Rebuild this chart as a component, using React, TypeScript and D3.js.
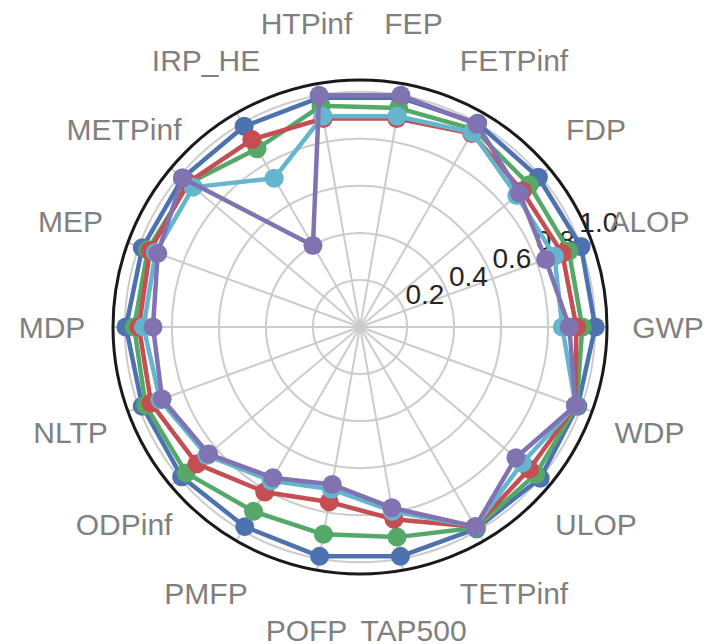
import React from "react";
import * as d3 from "d3";

const categories = ["GWP", "ALOP", "FDP", "FETPinf", "FEP", "HTPinf", "IRP_HE", "METPinf", "MEP", "MDP", "NLTP", "ODPinf", "PMFP", "POFP", "TAP500", "TETPinf", "ULOP", "WDP"];

const seriesBlue = [1.0, 1.0, 0.99, 1.0, 0.99, 0.99, 0.985, 0.985, 0.985, 0.995, 0.985, 0.99, 0.98, 0.99, 0.99, 0.99, 1.0, 0.985];
const seriesGreen = [0.945, 0.945, 0.94, 0.97, 0.945, 0.955, 0.875, 0.95, 0.96, 0.96, 0.97, 0.965, 0.905, 0.895, 0.907, 0.985, 0.975, 0.98];
const seriesRed = [0.92, 0.915, 0.9, 0.95, 0.9, 0.9, 0.92, 0.955, 0.95, 0.94, 0.945, 0.905, 0.81, 0.755, 0.83, 0.98, 0.94, 0.975];
const seriesCyan = [0.86, 0.88, 0.87, 0.955, 0.91, 0.91, 0.73, 0.925, 0.925, 0.92, 0.905, 0.85, 0.755, 0.70, 0.795, 0.98, 0.9, 0.975];
const seriesPurple = [0.89, 0.84, 0.885, 0.995, 1.0, 1.0, 0.40, 0.985, 0.915, 0.88, 0.895, 0.84, 0.74, 0.68, 0.78, 0.98, 0.865, 0.975];

const radialTicks = [0.2, 0.4, 0.6, 0.8, 1.0];
const tickLabels = ["0.2", "0.4", "0.6", "0.8", "1.0"];

const seriesList = [
  { values: seriesBlue, color: "#4C72B0" },
  { values: seriesGreen, color: "#55A868" },
  { values: seriesRed, color: "#C44E52" },
  { values: seriesCyan, color: "#64B5CD" },
  { values: seriesPurple, color: "#8172B2" },
];

const W = 709;
const H = 644;
const cx = 360;
const cy = 327;
const outerR = 247;
const rMax = 1.05;
const font = "'Liberation Sans', Arial, Helvetica, sans-serif";

export default function App() {
  const r = d3.scaleLinear().domain([0, rMax]).range([0, outerR]);
  const ang = d3
    .scaleLinear()
    .domain([0, categories.length])
    .range([0, 2 * Math.PI]);
  const pt = (i: number, v: number): [number, number] => {
    const a = ang(i);
    return [cx + r(v) * Math.cos(a), cy - r(v) * Math.sin(a)];
  };
  const line = d3
    .line<[number, number]>()
    .x((d) => d[0])
    .y((d) => d[1])
    .curve(d3.curveLinearClosed);

  const labelR = 308;
  const tickAngle = (22.5 * Math.PI) / 180;

  return (
    <div style={{ position: "absolute", left: 0, top: 0 }}>
      <svg width={W} height={H} style={{ display: "block", background: "#fff" }}>
        {/* grid circles */}
        {radialTicks.map((t) => (
          <circle key={"c" + t} cx={cx} cy={cy} r={r(t)} fill="none" stroke="#cccccc" strokeWidth={2} />
        ))}
        {/* spokes */}
        {categories.map((c, i) => {
          const a = ang(i);
          return (
            <line
              key={"s" + c}
              x1={cx}
              y1={cy}
              x2={cx + outerR * Math.cos(a)}
              y2={cy - outerR * Math.sin(a)}
              stroke="#cccccc"
              strokeWidth={2}
            />
          );
        })}
        {/* outer spine */}
        <circle cx={cx} cy={cy} r={outerR} fill="none" stroke="#1a1a1a" strokeWidth={3} />
        {/* radial tick labels */}
        {radialTicks.map((t, i) => {
          const x = cx + r(t) * Math.cos(tickAngle);
          const y = cy - r(t) * Math.sin(tickAngle);
          return (
            <text key={"t" + t} x={x + 2} y={y - 5} fontFamily={font} fontSize={28} fill="#262626">
              {tickLabels[i]}
            </text>
          );
        })}
        {/* series */}
        {seriesList.map((s, si) => {
          const pts = s.values.map((v, i) => pt(i, v));
          return (
            <g key={"g" + si}>
              <path d={line(pts) || ""} fill="none" stroke={s.color} strokeWidth={4.5} strokeLinejoin="round" />
              {pts.map((p, i) => (
                <circle key={i} cx={p[0]} cy={p[1]} r={9.5} fill={s.color} />
              ))}
            </g>
          );
        })}
        {/* category labels */}
        {categories.map((c, i) => {
          const a = ang(i);
          return (
            <text
              key={"l" + c}
              x={cx + labelR * Math.cos(a)}
              y={cy - labelR * Math.sin(a)}
              textAnchor="middle"
              dominantBaseline="central"
              fontFamily={font}
              fontSize={30}
              fill="#808080"
            >
              {c}
            </text>
          );
        })}
      </svg>
    </div>
  );
}
